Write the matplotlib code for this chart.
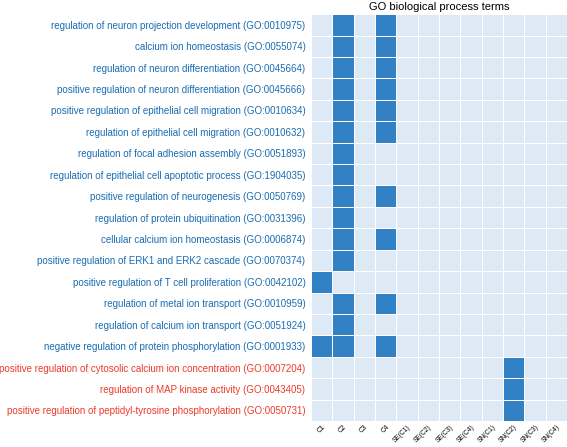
import numpy as np
import matplotlib
matplotlib.use("Agg")
import matplotlib.pyplot as plt
from matplotlib.colors import ListedColormap

plt.rcParams['font.family'] = ['Liberation Sans', 'DejaVu Sans']

# GO terms (rows) and clusters / sets (columns)
terms = [
    "regulation of neuron projection development (GO:0010975)",
    "calcium ion homeostasis (GO:0055074)",
    "regulation of neuron differentiation (GO:0045664)",
    "positive regulation of neuron differentiation (GO:0045666)",
    "positive regulation of epithelial cell migration (GO:0010634)",
    "regulation of epithelial cell migration (GO:0010632)",
    "regulation of focal adhesion assembly (GO:0051893)",
    "regulation of epithelial cell apoptotic process (GO:1904035)",
    "positive regulation of neurogenesis (GO:0050769)",
    "regulation of protein ubiquitination (GO:0031396)",
    "cellular calcium ion homeostasis (GO:0006874)",
    "positive regulation of ERK1 and ERK2 cascade (GO:0070374)",
    "positive regulation of T cell proliferation (GO:0042102)",
    "regulation of metal ion transport (GO:0010959)",
    "regulation of calcium ion transport (GO:0051924)",
    "negative regulation of protein phosphorylation (GO:0001933)",
    "positive regulation of cytosolic calcium ion concentration (GO:0007204)",
    "regulation of MAP kinase activity (GO:0043405)",
    "positive regulation of peptidyl-tyrosine phosphorylation (GO:0050731)",
]
columns = ["C1", "C2", "C3", "C4", "SE(C1)", "SE(C2)", "SE(C3)", "SE(C4)",
           "SN(C1)", "SN(C2)", "SN(C3)", "SN(C4)"]

# which columns each term is enriched in
enriched = [
    ["C2", "C4"], ["C2", "C4"], ["C2", "C4"], ["C2", "C4"], ["C2", "C4"],
    ["C2", "C4"], ["C2"], ["C2"], ["C2", "C4"], ["C2"], ["C2", "C4"],
    ["C2"], ["C1"], ["C2", "C4"], ["C2"], ["C1", "C2", "C4"],
    ["SN(C2)"], ["SN(C2)"], ["SN(C2)"],
]
n_blue = 16  # first 16 terms labelled blue, the rest red

mat = np.zeros((len(terms), len(columns)))
for i, cols in enumerate(enriched):
    for c in cols:
        mat[i, columns.index(c)] = 1

fig = plt.figure(figsize=(5.67, 4.47), dpi=100)
ax = fig.add_axes([0.5485, 0.058, 0.4515, 0.9105])

cmap = ListedColormap(["#dde9f5", "#3181c4"])
ax.pcolormesh(mat, cmap=cmap, edgecolors="white", linewidth=0.6, vmin=0, vmax=1)
ax.set_xlim(0, len(columns))
ax.set_ylim(len(terms), 0)

ax.set_yticks(np.arange(len(terms)) + 0.5)
ax.set_yticklabels(terms, fontsize=7)
for i, lab in enumerate(ax.get_yticklabels()):
    lab.set_color("#1a6db3" if i < n_blue else "#ee3a2a")

ax.set_xticks(np.arange(len(columns)) + 0.5)
ax.set_xticklabels(columns, fontsize=4.8, rotation=45, ha="right",
                   rotation_mode="anchor")
ax.tick_params(axis="x", length=0, pad=2)
ax.tick_params(axis="y", length=0, pad=4)
for s in ax.spines.values():
    s.set_visible(False)

ax.set_title("GO biological process terms", fontsize=8, pad=3)

fig.savefig("out.png", dpi=100)
plt.close()
